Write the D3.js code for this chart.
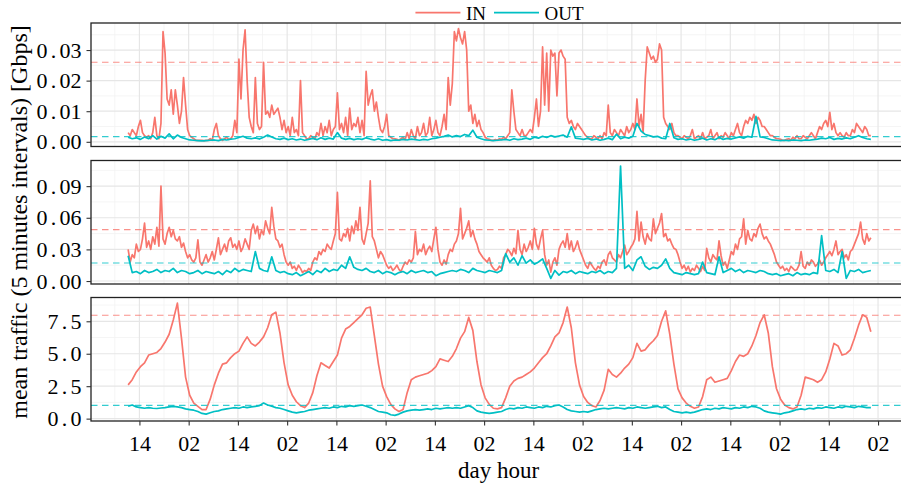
<!DOCTYPE html>
<html>
<head>
<meta charset="UTF-8">
<title>mean traffic IN / OUT</title>
<script src="https://d3js.org/d3.v7.min.js"></script>
<style>
    body {
        margin: 0;
        background-color: #fff;
    }
    svg {
        display: block;
    }
    text {
        font-family: "Liberation Serif", "Times New Roman", serif;
    }
</style>
</head>
<body>
<svg id="main" width="901" height="484"></svg>
<script>
// ---- data ----
var series = ["IN", "OUT"];
var colors = { IN: "#F8766D", OUT: "#00BFC4" };

// first sample of every series
var start = new Date(2014, 2, 3, 11, 15);

// panel 1, Mbps, one value per 30 min
var p1In = [
    3,2, 4,3, 2,5, 7,3, 2,1.5, 2,1, 3,8, 2,1, 6,36, 29,14,
    12,17, 9,17, 12,6, 10,21, 12,4, 2,1.5, 1,0.5, 0.5,0.5, 0.5,0.3, 0.5,0.5,
    1,0.5, 4,6, 2,1, 0.5,1, 1.5,0.8, 1,2, 7,3, 27,14, 30,36.6, 20,8,
    5,3, 21,6, 4,5, 26,9, 10,8, 12,9, 10,11, 8,4, 7,3, 5,2,
    8,3, 4,2, 20,3, 2,1, 1,2, 1.5,1, 3,2, 6,2, 5,3, 7,2,
    4,5, 16,4, 6,3, 8,2, 11,4, 6,5, 8,3, 7,2, 23,12, 15,17,
    10,13, 8,4, 3,5, 9,2, 1.5,1, 1,0.8, 0.5,1, 1.5,0.7, 3,1, 4,2,
    1,5, 2,3, 6,2, 3,8, 2,4, 7,3, 2,5, 9,4, 21,12, 19,36,
    33,37, 34,32, 36,30, 10,12, 6,9, 5,7, 4,3, 1.5,1, 0.8,0.5, 0.5,0.7,
    0.5,1, 0.8,1.5, 1,2, 3,17, 10,4, 3,2, 4,2, 2,3, 4,3, 8,14,
    5,10, 31,12, 29,10, 30,28, 29,15, 29,30, 28,27, 8,6, 7,5, 4,6,
    5,4, 3,2, 1.5,1, 1,2, 1.5,1, 2,1, 3,2, 12,3, 2,4, 3,2,
    4,3, 2,5, 3,4, 6,4, 14,5, 9,3, 20,31, 29,27, 28,26, 27,32,
    30,8, 6,5, 4,6, 3,2, 2,1.5, 1,2, 1.5,1, 2,4, 1,1.5, 2,1,
    3,1, 1.5,2, 4,1, 2,3, 1,2, 1.5,3, 2,1, 3,2, 4,6, 3,2,
    5,7, 6,8, 7,9, 6,8, 7,5, 5,4, 3,2, 2,1.5, 1,1, 0.8,0.5,
    0.5,0.8, 1,0.5, 1.5,1, 2,1, 1,2, 1.5,1, 2,3, 2,1, 3,5, 4,6,
    7,5, 9.6,4, 6,3, 2,3, 2,1.5, 3,2, 2,4, 3,6, 5,4, 3,5,
    4,2, 2
];
// panel 1, Mbps, one value per hour
var p1Out = [
    1.5, 1.0, 1.3, 0.8, 1.6, 1.0, 2.0, 0.9, 1.8, 1.2,
    2.6, 1.0, 2.2, 1.4, 1.0, 0.6, 0.5, 0.4, 0.3, 0.4,
    0.5, 0.6, 0.4, 0.8, 0.6, 0.9, 1.0, 1.4, 1.8, 1.2,
    1.0, 1.3, 0.9, 1.5, 2.2, 1.6, 1.0, 0.8, 1.2, 0.7,
    1.0, 0.6, 0.9, 0.5, 0.8, 1.1, 0.7, 1.3, 0.8, 1.2,
    0.9, 3.0, 1.2, 0.8, 1.1, 0.7, 1.0, 0.8, 1.3, 0.9,
    0.6, 1.0, 0.5, 0.7, 0.4, 0.6, 0.5, 0.8, 0.6, 0.9,
    0.7, 0.5, 0.8, 0.6, 1.0, 1.2, 1.5, 1.8, 2.2, 1.6,
    2.0, 1.7, 2.4, 2.0, 3.8, 1.5, 1.0, 0.6, 0.5, 0.4,
    0.5, 0.6, 0.8, 0.5, 1.0, 0.7, 0.9, 1.2, 0.8, 1.5,
    1.2, 1.8, 1.4, 2.0, 1.6, 1.9, 2.2, 1.5, 4.9, 1.2,
    1.0, 0.8, 1.1, 0.6, 0.9, 0.5, 0.8, 1.2, 0.7, 2.5,
    1.0, 1.5, 1.2, 1.8, 6.0, 3.5, 2.4, 2.0, 1.6, 1.8,
    1.2, 1.0, 6.0, 1.3, 0.8, 1.0, 0.6, 0.9, 0.5, 0.8,
    1.2, 0.6, 1.0, 0.7, 1.4, 0.8, 1.1, 0.9, 1.3, 1.6,
    1.2, 1.8, 1.5, 8.3, 1.6, 1.4, 1.0, 0.6, 0.5, 0.4,
    0.5, 0.4, 0.6, 0.5, 0.4, 0.6, 0.5, 0.7, 0.9, 1.2,
    1.0, 1.4, 0.8, 1.1, 0.9, 1.3, 1.0, 1.5, 2.0, 1.4,
    1.0, 0.8
];

// panel 2, Mbps, one value per 30 min
var p2In = [
    30,18, 25,22, 35,28, 30,40, 55,32, 38,30, 42,35, 51,33, 90,40, 35,45,
    51,42, 48,40, 38,42, 32,36, 28,22, 25,20, 18,22, 39,18, 15,20, 25,18,
    22,28, 20,30, 41,25, 30,35, 28,38, 41,32, 35,30, 38,28, 32,40, 35,30,
    48,54, 45,52, 40,48, 44,57, 50,45, 70,52, 40,38, 32,35, 25,18, 15,18,
    12,14, 10,15, 12,8, 10,9, 12,10, 18,22, 20,28, 25,30, 28,35, 32,30,
    38,45, 84,40, 38,45, 42,50, 38,52, 45,57, 48,70, 40,35, 45,55, 95,42,
    38,30, 22,28, 25,20, 15,12, 14,10, 12,15, 11,9, 14,18, 16,20, 18,22,
    47,25, 30,28, 35,25, 30,33, 28,40, 51,30, 18,15, 20,16, 25,30, 28,35,
    38,45, 69,40, 45,50, 57,42, 48,40, 35,28, 25,22, 20,18, 22,15, 12,10,
    11,14, 12,22, 25,30, 28,24, 31,26, 48,30, 25,35, 28,32, 38,30, 50,35,
    30,40, 48,25, 15,20, 8.5,18, 22,15, 30,35, 38,32, 45,30, 38,28, 32,38,
    30,25, 20,15, 12,18, 15,12, 10,14, 12,18, 20,15, 25,28, 22,20, 18,25,
    22,28, 34,25, 28,32, 35,40, 66,38, 56,42, 35,45, 40,38, 59,45, 50,55,
    64,42, 45,38, 40,35, 31,30, 25,18, 12,15, 10,14, 8.5,12, 10,15, 12,9,
    14,10, 31,22, 18,25, 22,20, 38,24, 15,18, 12,20, 28,25, 35,30, 40,42,
    59,35, 48,40, 38,45, 42,50, 54,45, 40,42, 38,35, 30,25, 18,15, 12,14,
    10,12, 9,14, 12,10, 11,15, 28,14, 12,18, 15,20, 18,14, 16,20, 15,18,
    22,25, 28,24, 30,38, 25,28, 30,22, 25,20, 28,30, 35,40, 45,56, 40,35,
    45,38, 41
];
// panel 2, Mbps, one value per hour
var p2Out = [
    24, 8, 9, 7, 10, 8, 9, 11, 8, 10,
    9, 12, 8, 10, 9, 7, 8, 10, 7, 9,
    8, 7, 9, 6, 10, 8, 12, 9, 11, 10,
    9, 28, 12, 10, 9, 23, 10, 8, 9, 7,
    6, 8, 5, 7, 9, 6, 10, 8, 12, 9,
    11, 10, 15, 12, 23, 13, 11, 10, 12, 9,
    8, 10, 7, 9, 8, 6, 8, 9, 7, 10,
    8, 9, 10, 8, 9, 5, 7, 8, 9, 10,
    9, 11, 10, 8, 12, 10, 9, 8, 10, 9,
    8, 10, 26, 18, 22, 15, 24, 17, 20, 16,
    18, 21, 12, 2.5, 10, 5.6, 9, 8, 10, 7,
    9, 8, 7, 9, 8, 10, 7, 9, 8, 12,
    109, 12, 15, 10, 20, 23, 14, 11, 13, 12,
    15, 21, 12, 8, 7, 6, 8, 7, 6, 7,
    18, 8, 7, 6, 23, 8, 10, 12, 9, 11,
    8, 10, 9, 8, 10, 9, 7, 6, 7, 5,
    6, 7, 5, 8, 6, 7, 6, 8, 7, 43,
    10, 9, 11, 8, 28, 2.5, 10, 9, 11, 8,
    9, 10
];

// panel 3, Gbps, one value per hour
var p3In = [
    2.6, 3.0, 3.6, 4.0, 4.3, 4.9, 5.0, 5.1, 5.4, 5.9,
    6.5, 7.6, 8.9, 6.2, 3.2, 1.8, 1.2, 0.95, 0.7, 0.7,
    1.5, 2.6, 3.5, 4.2, 4.3, 4.7, 5.0, 5.2, 5.8, 6.3,
    5.8, 5.6, 5.9, 6.3, 7.0, 8.0, 8.2, 6.6, 4.3, 2.6,
    1.8, 1.3, 1.0, 0.85, 1.2, 2.0, 3.3, 4.3, 4.1, 3.9,
    4.4, 4.9, 6.2, 6.9, 7.1, 7.4, 7.7, 8.0, 8.5, 8.6,
    6.4, 4.2, 2.5, 1.7, 1.1, 0.75, 0.55, 0.7, 2.0, 3.0,
    3.2, 3.3, 3.4, 3.5, 3.7, 4.0, 4.6, 4.5, 4.4, 4.8,
    5.4, 6.2, 6.7, 7.8, 6.8, 4.4, 2.6, 1.6, 1.1, 0.8,
    0.75, 0.85, 1.6, 2.5, 2.9, 3.1, 3.2, 3.4, 3.6, 3.9,
    4.3, 4.7, 5.0, 5.6, 6.3, 6.6, 7.4, 8.6, 7.0, 4.3,
    2.6, 1.7, 1.25, 1.0, 0.9, 1.4, 2.2, 3.8, 3.4, 3.2,
    3.5, 3.9, 4.2, 4.7, 5.8, 5.2, 5.3, 5.7, 6.0, 6.4,
    7.5, 8.3, 6.5, 4.2, 2.3, 1.6, 1.2, 0.95, 0.8, 0.9,
    1.7, 3.0, 3.2, 2.8, 2.9, 3.0, 3.1, 3.7, 4.4, 4.9,
    4.8, 5.0, 5.6, 6.4, 7.4, 8.0, 6.6, 4.0, 2.3, 1.5,
    1.05, 0.85, 0.75, 0.9, 1.8, 3.2, 3.1, 3.0, 2.8, 3.0,
    3.6, 4.6, 5.8, 5.6, 4.9, 5.0, 5.3, 6.2, 7.2, 8.0,
    7.8, 6.7
];
var p3Out = [
    0.95, 1.05, 0.9, 0.85, 0.8, 0.85, 0.8, 0.78, 0.82, 0.85,
    0.9, 0.95, 0.9, 0.85, 0.75, 0.7, 0.65, 0.55, 0.4, 0.35,
    0.45, 0.55, 0.6, 0.7, 0.75, 0.8, 0.85, 0.8, 0.9, 0.85,
    0.9, 0.95, 1.0, 1.2, 1.05, 0.95, 0.85, 0.8, 0.7, 0.6,
    0.5, 0.45, 0.5, 0.55, 0.65, 0.7, 0.75, 0.8, 0.85, 0.8,
    0.9, 0.85, 0.95, 0.9, 1.0, 0.95, 1.0, 1.05, 0.95, 0.85,
    0.7, 0.55, 0.5, 0.45, 0.3, 0.25, 0.35, 0.5, 0.6, 0.65,
    0.7, 0.65, 0.7, 0.75, 0.7, 0.8, 0.75, 0.8, 0.85, 0.8,
    0.85, 0.8, 0.9, 1.0, 0.85, 0.6, 0.5, 0.45, 0.4, 0.45,
    0.5, 0.55, 0.7, 0.8, 0.75, 0.85, 0.8, 0.9, 0.85, 0.8,
    0.9, 0.85, 0.95, 0.9, 1.0, 1.05, 0.9, 0.7, 0.6, 0.55,
    0.5, 0.55, 0.5, 0.6, 0.7, 0.75, 0.8, 0.75, 0.8, 0.85,
    0.8, 0.75, 0.85, 0.8, 0.9, 0.85, 0.8, 0.85, 0.9, 0.95,
    0.85, 0.9, 0.7, 0.55, 0.5, 0.45, 0.5, 0.45, 0.5, 0.6,
    0.7, 0.75, 0.7, 0.8, 0.75, 0.85, 0.8, 0.75, 0.85, 0.8,
    0.9, 0.85, 0.95, 0.9, 0.8, 0.6, 0.5, 0.45, 0.4, 0.35,
    0.45, 0.5, 0.6, 0.7, 0.75, 0.7, 0.8, 0.75, 0.85, 0.8,
    0.9, 0.85, 0.8, 0.9, 0.85, 0.95, 0.9, 0.85, 0.95, 0.9,
    0.85, 0.85
];

// dashed reference levels [IN, OUT], Gbps
var p1Limits = [0.026, 0.0017];
var p2Limits = [0.0488, 0.0171];
var p3Limits = [7.97, 1.02];

// y tick labels per panel
var p1Ticks = [0, 0.01, 0.02, 0.03];
var p2Ticks = [0, 0.03, 0.06, 0.09];
var p3Ticks = [0, 2.5, 5, 7.5];

var xTitle = "day hour";
var yTitle = "mean traffic (5 minutes intervals) [Gbps]";

// ---- layout ----
var svg = d3.select("#main");
var font = "'Liberation Serif', 'Times New Roman', serif";
var plotLeft = 91, plotRight = 908;
var panelTop = [23, 160.5, 297.5], panelH = 123.5;

var panels = [
    { IN: p1In, OUT: p1Out, step: { IN: 30, OUT: 60 }, unit: 0.001, ticks: p1Ticks, fmt: d3.format(".2f"), limits: p1Limits },
    { IN: p2In, OUT: p2Out, step: { IN: 30, OUT: 60 }, unit: 0.001, ticks: p2Ticks, fmt: d3.format(".2f"), limits: p2Limits },
    { IN: p3In, OUT: p3Out, step: { IN: 60, OUT: 60 }, unit: 1, ticks: p3Ticks, fmt: d3.format(".1f"), limits: p3Limits }
];

panels.forEach(function(p) {
    p.data = series.map(function(s) {
        return {
            key: s,
            values: p[s].map(function(v, i) {
                return { t: d3.timeMinute.offset(start, i * p.step[s]), v: v * p.unit };
            })
        };
    });
});

var tEnd = d3.max(panels, function(p) {
    return d3.max(p.data, function(s) { return s.values[s.values.length - 1].t; });
});
var span = tEnd - start;
var x = d3.scaleTime()
    .domain([new Date(+start - span * 0.05), new Date(+tEnd + span * 0.05)])
    .range([plotLeft, plotRight]);

var hours = d3.timeHour.range(x.domain()[0], x.domain()[1]);
var majorX = hours.filter(function(d) { return d.getHours() % 12 === 2; });
var minorX = hours.filter(function(d) { return d.getHours() % 12 === 8; });

panels.forEach(function(p, i) {
    var g = svg.append("g").attr("transform", "translate(0," + panelTop[i] + ")");

    var all = p.data[0].values.concat(p.data[1].values).map(function(d) { return d.v; });
    var lo = d3.min(all), hi = d3.max(all), pad = (hi - lo) * 0.05;
    var y = d3.scaleLinear().domain([lo - pad, hi + pad]).range([panelH, 0]);

    var half = (p.ticks[1] - p.ticks[0]) / 2;
    var minorY = p.ticks.map(function(v) { return v + half; })
        .filter(function(v) { return v < y.domain()[1]; });

    g.append("rect")
        .attr("x", plotLeft).attr("y", 0)
        .attr("width", plotRight - plotLeft).attr("height", panelH)
        .attr("fill", "#fff");

    // grid
    g.selectAll(".minor-y").data(minorY).enter().append("line")
        .attr("x1", plotLeft).attr("x2", plotRight)
        .attr("y1", y).attr("y2", y)
        .attr("stroke", "#F2F2F2").attr("stroke-width", 0.8);
    g.selectAll(".minor-x").data(minorX).enter().append("line")
        .attr("x1", x).attr("x2", x)
        .attr("y1", 0).attr("y2", panelH)
        .attr("stroke", "#F2F2F2").attr("stroke-width", 0.8);
    g.selectAll(".major-y").data(p.ticks).enter().append("line")
        .attr("x1", plotLeft).attr("x2", plotRight)
        .attr("y1", y).attr("y2", y)
        .attr("stroke", "#E6E6E6").attr("stroke-width", 1.2);
    g.selectAll(".major-x").data(majorX).enter().append("line")
        .attr("x1", x).attr("x2", x)
        .attr("y1", 0).attr("y2", panelH)
        .attr("stroke", "#E6E6E6").attr("stroke-width", 1.2);

    var line = d3.line()
        .x(function(d) { return x(d.t); })
        .y(function(d) { return y(d.v); });

    g.selectAll(".series").data(p.data).enter().append("path")
        .attr("d", function(s) { return line(s.values); })
        .attr("fill", "none")
        .attr("stroke", function(s) { return colors[s.key]; })
        .attr("stroke-width", 1.7)
        .attr("stroke-linejoin", "round");

    // dashed reference levels
    g.selectAll(".limit").data(series).enter().append("line")
        .attr("x1", plotLeft).attr("x2", plotRight)
        .attr("y1", function(s, k) { return y(p.limits[k]); })
        .attr("y2", function(s, k) { return y(p.limits[k]); })
        .attr("stroke", function(s) { return colors[s]; })
        .attr("stroke-opacity", 0.8)
        .attr("stroke-width", 1.1)
        .attr("stroke-dasharray", "6.5,4.5");

    g.append("rect")
        .attr("x", plotLeft).attr("y", 0)
        .attr("width", plotRight - plotLeft).attr("height", panelH)
        .attr("fill", "none").attr("stroke", "#222").attr("stroke-width", 1.3);

    var ya = g.append("g")
        .attr("transform", "translate(" + plotLeft + ",0)")
        .call(d3.axisLeft(y).tickValues(p.ticks).tickFormat(p.fmt).tickSize(4.5).tickPadding(5));
    ya.select(".domain").remove();
    ya.selectAll("line").attr("stroke", "#333").attr("stroke-width", 1.1);
    // labels set with a roomy decimal point, as in the picture
    ya.selectAll("text")
        .attr("fill", "#000")
        .style("font-size", "22px")
        .style("font-family", font)
        .each(function(d) {
            var parts = p.fmt(d).split(".");
            var t = d3.select(this).text(null);
            t.append("tspan").text(parts[0]);
            t.append("tspan").attr("dx", 3.2).text(".");
            t.append("tspan").attr("dx", 3.2).text(parts[1]);
        });

    if (i === panels.length - 1) {
        var xa = g.append("g")
            .attr("transform", "translate(0," + panelH + ")")
            .call(d3.axisBottom(x).tickValues(majorX).tickFormat(d3.timeFormat("%H")).tickSize(4.5).tickPadding(9.8));
        xa.select(".domain").remove();
        xa.selectAll("line").attr("stroke", "#333").attr("stroke-width", 1.1);
        xa.selectAll("text").attr("fill", "#000")
            .style("font-size", "22px")
            .style("font-family", font);
    }
});

// axis titles
var midX = (plotLeft + plotRight) / 2;
svg.append("text")
    .attr("x", midX - 1).attr("y", 478)
    .attr("text-anchor", "middle")
    .style("font-size", "23px")
    .style("font-family", font)
    .text(xTitle);

svg.append("text")
    .attr("transform", "translate(27," + (panelTop[0] + panelTop[2] + panelH) / 2 + ") rotate(-90)")
    .attr("text-anchor", "middle")
    .style("font-size", "24px")
    .style("font-family", font)
    .text(yTitle);

// legend
var legend = svg.append("g");
var keyW = 45, cx = 0;
series.forEach(function(s) {
    var item = legend.append("g").attr("transform", "translate(" + cx + ",0)");
    item.append("line")
        .attr("x1", 0).attr("x2", keyW)
        .attr("y1", 12.7).attr("y2", 12.7)
        .attr("stroke", colors[s]).attr("stroke-width", 1.7);
    var t = item.append("text")
        .attr("x", keyW + 5.5).attr("y", 20)
        .style("font-size", "19px")
        .style("font-family", font)
        .text(s);
    cx += keyW + 5.5 + t.node().getComputedTextLength() + 8;
});
legend.attr("transform", "translate(" + (midX - (cx - 8) / 2) + ",0)");
</script>
</body>
</html>
